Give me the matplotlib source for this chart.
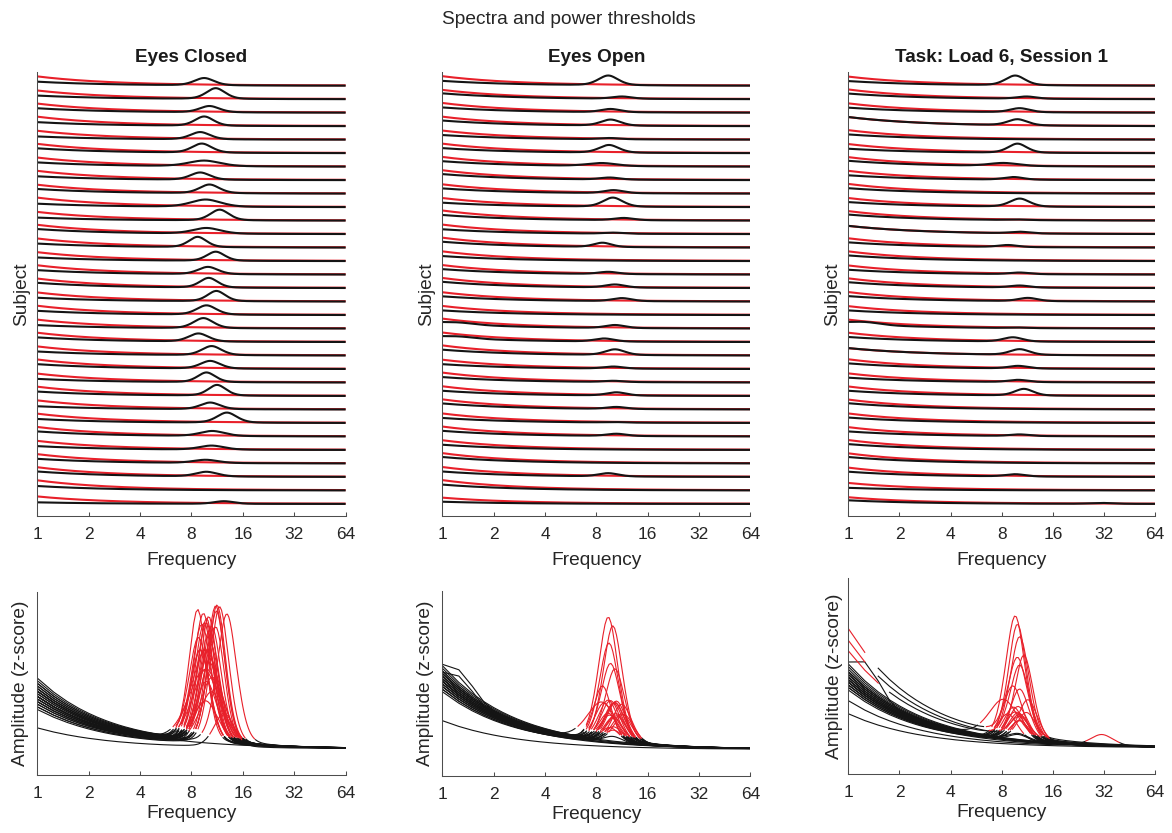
import numpy as np
import matplotlib
matplotlib.use("Agg")
import matplotlib.pyplot as plt

plt.rcParams['font.family'] = ['Liberation Sans', 'DejaVu Sans']

# ---------------- data (rows listed top to bottom) ----------------
conditions = ["Eyes Closed", "Eyes Open", "Task: Load 6, Session 1"]
freq_ticks = [1, 2, 4, 8, 16, 32, 64]

# Eyes Closed
ec_peak_freq = [9.5, 11.1, 10.2, 9.5, 9.0, 9.2, 9.5, 9.0, 10.2, 9.7, 11.7, 9.8, 8.7, 11.1, 10.0, 10.1,
                11.2, 9.8, 9.4, 8.8, 10.5, 10.3, 9.8, 11.3, 10.3, 12.9, 10.6, 10.5, 9.7, 9.8, 10.0, 12.4]
ec_peak_z = [3.6, 5.3, 3.1, 4.6, 3.6, 4.5, 2.8, 3.6, 4.3, 3.6, 5.3, 2.8, 5.1, 4.5, 3.6, 4.8,
             5.1, 4.6, 5.0, 4.0, 4.5, 3.8, 4.8, 5.3, 3.3, 5.0, 2.5, 2.0, 1.6, 2.3, 0.0, 1.3]
ec_peak_width = [0.20, 0.19, 0.20, 0.19, 0.20, 0.20, 0.32, 0.20, 0.20, 0.30, 0.19, 0.28, 0.18, 0.18, 0.20, 0.18,
                 0.18, 0.20, 0.20, 0.20, 0.20, 0.20, 0.18, 0.18, 0.20, 0.20, 0.25, 0.25, 0.25, 0.22, 0.20, 0.20]
ec_aperiodic = [2.0, 1.8, 2.2, 2.0, 1.6, 2.4, 2.1, 1.9, 2.3, 1.7, 1.5, 2.5, 2.0, 1.8, 2.2, 2.6,
                1.9, 2.1, 1.7, 2.3, 2.0, 2.4, 1.8, 2.2, 1.6, 2.0, 2.5, 1.9, 2.3, 2.7, 2.2, 0.8]
ec_threshold = [4.5, 4.2, 4.4, 4.6, 4.3, 4.5, 4.4, 4.5, 4.3, 4.6, 4.2, 4.5, 4.4, 4.3, 4.5, 4.6,
                4.4, 4.5, 4.3, 4.5, 4.4, 4.6, 4.3, 4.5, 4.4, 4.5, 4.6, 4.4, 4.5, 4.7, 4.9, 3.6]
ec_low_bump = [0.0] * 32

# Eyes Open
eo_peak_freq = [9.4, 11.3, 9.7, 9.7, 9.6, 9.5, 8.6, 9.6, 10.1, 10.0, 11.6, 10.1, 8.7, 10.0, 9.4, 10.3,
                11.3, 10.0, 10.3, 8.9, 10.3, 10.1, 10.1, 10.5, 10.5, 10.0, 10.5, 10.0, 10.0, 9.4, 10.0, 10.0]
eo_peak_z = [4.8, 1.1, 1.6, 3.0, 0.6, 3.8, 1.5, 1.0, 1.5, 4.5, 1.1, 0.5, 2.1, 0.0, 1.1, 1.5,
             1.5, 0.0, 1.5, 1.5, 2.8, 1.0, 0.6, 1.6, 1.0, 0.25, 1.1, 0.0, 0.0, 1.6, 0.0, 0.0]
eo_peak_width = [0.20, 0.20, 0.20, 0.20, 0.20, 0.20, 0.30, 0.20, 0.20, 0.20, 0.20, 0.20, 0.18, 0.20, 0.20, 0.20,
                 0.20, 0.20, 0.20, 0.20, 0.20, 0.20, 0.20, 0.20, 0.20, 0.20, 0.20, 0.20, 0.20, 0.20, 0.20, 0.20]
eo_aperiodic = [2.4, 2.9, 2.6, 2.8, 2.3, 2.5, 2.7, 3.0, 2.6, 2.2, 2.8, 2.4, 2.9, 2.5, 2.7, 3.1,
                2.6, 2.3, 2.8, 2.5, 2.9, 2.4, 2.7, 2.6, 3.0, 2.5, 2.8, 2.6, 3.2, 2.7, 2.9, 1.1]
eo_threshold = [4.6, 4.5, 4.7, 4.6, 4.4, 4.6, 4.7, 4.8, 4.5, 4.4, 4.9, 4.6, 4.8, 4.7, 4.6, 4.9,
                4.5, 4.4, 4.8, 4.6, 4.9, 4.5, 4.8, 4.7, 4.9, 4.6, 4.8, 4.7, 5.0, 4.8, 5.0, 3.0]
eo_low_bump = [0.0] * 18 + [0.8, 0.8] + [0.0] * 12

# Task: Load 6, Session 1
task_peak_freq = [9.6, 11.2, 10.2, 9.9, 10.0, 9.9, 8.2, 9.4, 10.0, 10.2, 10.0, 10.2, 8.7, 10.0, 10.2, 10.2,
                  11.4, 10.0, 10.0, 9.3, 10.2, 10.0, 10.0, 10.8, 10.0, 10.0, 10.2, 10.0, 10.0, 9.6, 10.0, 31.0]
task_peak_z = [4.8, 1.1, 2.0, 3.0, 0.0, 4.5, 1.5, 1.3, 0.0, 4.0, 0.25, 0.8, 1.0, 0.0, 0.8, 1.0,
               1.6, 0.0, 0.25, 2.1, 2.8, 1.3, 1.1, 3.3, 0.0, 0.0, 0.8, 0.0, 0.0, 1.1, 0.0, 0.45]
task_peak_width = [0.20, 0.20, 0.20, 0.20, 0.20, 0.19, 0.30, 0.20, 0.20, 0.20, 0.20, 0.20, 0.20, 0.20, 0.20, 0.20,
                   0.20, 0.20, 0.20, 0.20, 0.20, 0.20, 0.20, 0.19, 0.20, 0.20, 0.20, 0.20, 0.20, 0.20, 0.20, 0.24]
task_aperiodic = [2.3, 2.8, 2.5, 4.55, 2.6, 2.2, 2.9, 2.4, 2.7, 2.5, 3.0, 4.1, 2.6, 2.8, 2.4, 2.9,
                  2.7, 2.3, 2.6, 2.5, 3.7, 2.8, 2.4, 2.6, 3.1, 2.7, 2.5, 2.9, 3.2, 2.6, 1.3, 1.8]
task_threshold = [4.4, 4.7, 4.5, 4.39, 4.6, 4.4, 4.6, 4.5, 4.7, 4.4, 4.6, 3.94, 4.5, 4.7, 4.4, 4.7,
                  4.6, 4.3, 4.3, 4.5, 3.51, 4.7, 4.4, 4.6, 4.8, 4.6, 4.5, 4.8, 4.9, 4.5, 3.6, 3.2]
task_low_bump = [0.0] * 18 + [1.2] + [0.0] * 13

cond_data = [
    (ec_peak_freq, ec_peak_z, ec_peak_width, ec_aperiodic, ec_threshold, ec_low_bump),
    (eo_peak_freq, eo_peak_z, eo_peak_width, eo_aperiodic, eo_threshold, eo_low_bump),
    (task_peak_freq, task_peak_z, task_peak_width, task_aperiodic, task_threshold, task_low_bump),
]

TAIL_Z = -0.5      # z-score of the flat high-frequency floor
THR_EPS = 0.12     # threshold margin above the floor
ROW_SCALE = 0.15   # subject-row units per z-score unit in the top panels


def spectrum(f, ap, pf, ph, pw, lf):
    d = np.log2(f) - np.log2(pf)
    peak = ph * (0.7 * np.exp(-0.5 * (d / pw) ** 2) + 0.3 / (1 + (d / pw) ** 2))
    dl = np.log2(f) - np.log2(1.25)
    low = lf * np.exp(-0.5 * (dl / 0.3) ** 2)
    return TAIL_Z + ap / f + peak + low


def threshold(f, thr):
    return TAIL_Z + thr / f + THR_EPS


# ---------------- layout ----------------
RED = '#e8202a'
BLACK = '#141414'
AXC = (0.3, 0.3, 0.3)
TXT = (0.15, 0.15, 0.15)

fig = plt.figure(figsize=(11.72, 8.33), dpi=100)
fig.text(0.4855, 1 - 24 / 833, "Spectra and power thresholds", ha='center', va='baseline',
         fontsize=13.8, color=TXT)

top_pos = [(0.0318, 0.3806, 0.2631, 0.533), (0.3774, 0.3806, 0.2628, 0.533), (0.7238, 0.3806, 0.2619, 0.533)]
bot_pos = [(0.0318, 0.0696, 0.2631, 0.2200), (0.3774, 0.0688, 0.2628, 0.2221), (0.7238, 0.0708, 0.2619, 0.2353)]
bot_ylim_top = [5.5, 5.56, 5.98]
ylabel_pad_bot = [6, 6, 4]

f_fine = np.geomspace(1, 64, 600)
f_coarse = np.arange(1, 64.01, 0.25)


def style_axes(ax):
    for s in ['top', 'right']:
        ax.spines[s].set_visible(False)
    for s in ['left', 'bottom']:
        ax.spines[s].set_color(AXC)
        ax.spines[s].set_linewidth(0.75)
    ax.set_xscale('log', base=2)
    ax.set_xlim(1, 64)
    ax.set_xticks(freq_ticks)
    ax.set_xticklabels([str(t) for t in freq_ticks])
    ax.minorticks_off()
    ax.set_yticks([])
    ax.tick_params(axis='x', direction='in', length=3.2, width=0.75, color=AXC,
                   labelsize=12.5, labelcolor=TXT, pad=7.8)


for ci, cond in enumerate(conditions):
    pf, pz, pw, ap, thr, lf = cond_data[ci]
    n = len(pf)

    # top: stacked spectra per subject
    ax = fig.add_axes(top_pos[ci])
    style_axes(ax)
    for k in range(n):
        off = n - 1 - k
        z = spectrum(f_fine, ap[k], pf[k], pz[k], pw[k], lf[k])
        t = threshold(f_fine, thr[k])
        ax.plot(f_fine, off + ROW_SCALE * (t - TAIL_Z), color=RED, lw=1.5, solid_capstyle='butt')
        ax.plot(f_fine, off + ROW_SCALE * (z - TAIL_Z), color=BLACK, lw=1.5, solid_capstyle='butt')
    ax.set_ylim(-0.89, 32.02)
    ax.set_title(cond, fontsize=13.6, fontweight='bold', color=(0.1, 0.1, 0.1), pad=7.2)
    ax.set_xlabel("Frequency", fontsize=13.8, color=TXT, labelpad=7.5)
    ax.set_ylabel("Subject", fontsize=13.8, color=TXT, labelpad=5)

    # bottom: z-scored spectra, red where above threshold
    axb = fig.add_axes(bot_pos[ci])
    style_axes(axb)
    reds = []
    for k in range(n):
        z = spectrum(f_coarse, ap[k], pf[k], pz[k], pw[k], lf[k])
        t = threshold(f_coarse, thr[k])
        above = z > t
        zb = np.where(~above, z, np.nan)
        zr = np.where(above, z, np.nan)
        axb.plot(f_coarse, zb, color=BLACK, lw=0.8)
        reds.append(zr)
    for zr in reds:
        axb.plot(f_coarse, zr, color=RED, lw=0.8)
    axb.set_ylim(-1.5, bot_ylim_top[ci])
    axb.set_xlabel("Frequency", fontsize=13.8, color=TXT, labelpad=3)
    axb.set_ylabel("Amplitude (z-score)", fontsize=13.8, color=TXT, labelpad=ylabel_pad_bot[ci])

fig.savefig("out.png", dpi=100)
